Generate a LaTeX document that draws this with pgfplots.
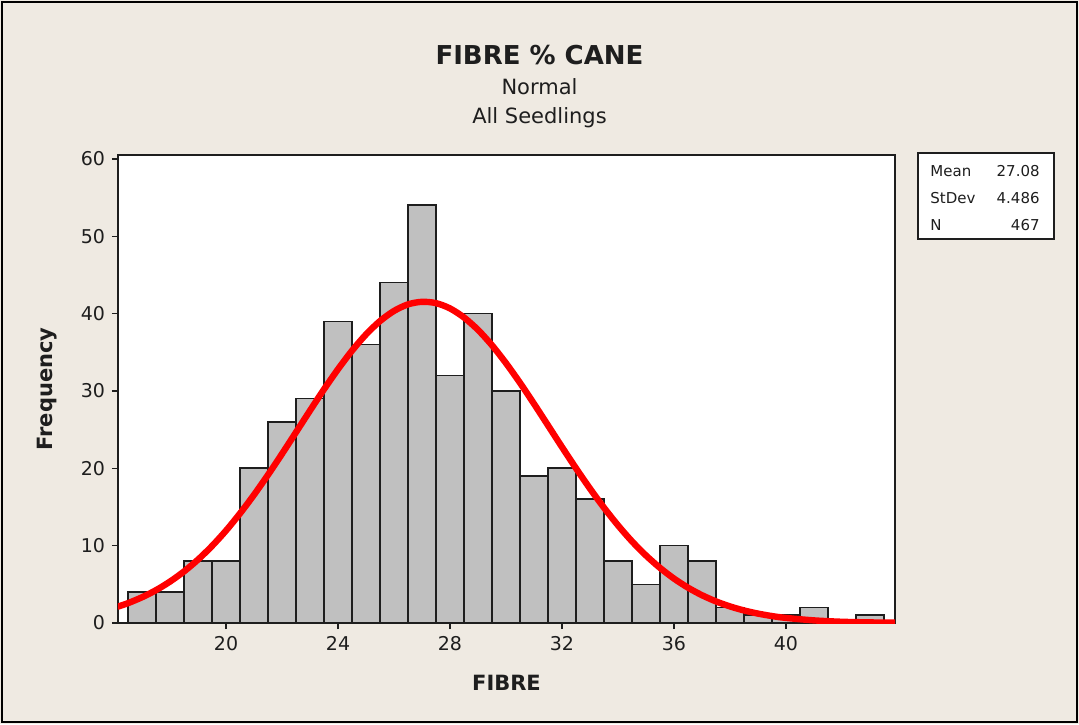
\documentclass[border=0pt]{standalone}
\usepackage{pgfplots}
\pgfplotsset{compat=1.18}
\usepackage{fontspec}
\setmainfont{DejaVu Sans}

\definecolor{bgbeige}{RGB}{239,234,226}
\definecolor{bargray}{RGB}{192,192,192}
\definecolor{curvered}{RGB}{255,0,0}
\definecolor{ink}{RGB}{30,30,30}

\begin{document}
\begin{tikzpicture}
% page: 539.5pt x 362pt, axis box lower left sits at (59pt,50.5pt) of the page
\fill[bgbeige] (-59pt,-50.5pt) rectangle (480.5pt,311.5pt);
\draw[black, line width=1pt] (-58pt,-49.5pt) rectangle (479.5pt,310.5pt);
\path[use as bounding box] (-59pt,-50.5pt) rectangle (480.5pt,311.5pt);

\begin{axis}[
    at={(0pt,0pt)}, anchor=south west,
    scale only axis,
    width=388.5pt, height=234pt,
    xmin=16.14, xmax=43.9,
    ymin=0, ymax=60.5,
    axis background/.style={fill=white},
    xtick={20,24,...,40},
    ytick={0,10,...,60},
    tick align=outside,
    xtick pos=bottom, ytick pos=left,
    major tick length=3pt,
    axis line style={ink, line width=0.8pt},
    tick style={ink, line width=0.7pt},
    ticklabel style={font=\fontsize{9.5}{11}\selectfont, text=ink},
    /pgf/number format/assume math mode=true,
    xlabel={FIBRE},
    ylabel={Frequency},
    label style={font=\fontsize{10.5}{12}\bfseries\selectfont, text=ink},
    xlabel style={at={(axis description cs:0.5,-0.128)}, anchor=center},
    ylabel style={at={(axis description cs:-0.0914,0.5)}, anchor=center},
]
% histogram, bins of width 1 centred on integers
\addplot[ybar interval, fill=bargray, draw=ink, line width=0.8pt] coordinates {
  (16.5,4) (17.5,4) (18.5,8) (19.5,8) (20.5,20) (21.5,26) (22.5,29)
  (23.5,39) (24.5,36) (25.5,44) (26.5,54) (27.5,32) (28.5,40) (29.5,30)
  (30.5,19) (31.5,20) (32.5,16) (33.5,8) (34.5,5) (35.5,10) (36.5,8)
  (37.5,2) (38.5,1) (39.5,1) (40.5,2) (41.5,0) (42.5,1) (43.5,0)
};
% fitted normal, mean 27.08, stdev 4.486, N 467
\addplot[curvered, line width=3.2pt, line cap=round, smooth, no markers] coordinates {
  (16.14,2.12) (16.5,2.57) (17,3.33) (17.5,4.25) (18,5.36) (18.5,6.67)
  (19,8.20) (19.5,9.96) (20,11.95) (20.5,14.17) (21,16.58) (21.5,19.16)
  (22,21.87) (22.5,24.66) (23,27.46) (23.5,30.21) (24,32.81) (24.5,35.20)
  (25,37.30) (25.5,39.03) (26,40.34) (26.5,41.19) (27,41.52) (27.5,41.35)
  (28,40.67) (28.5,39.50) (29,37.90) (29.5,35.91) (30,33.60) (30.5,31.06)
  (31,28.35) (31.5,25.56) (32,22.76) (32.5,20.02) (33,17.39) (33.5,14.92)
  (34,12.64) (34.5,10.57) (35,8.74) (35.5,7.14) (36,5.75) (36.5,4.58)
  (37,3.60) (37.5,2.80) (38,2.15) (38.5,1.63) (39,1.22) (39.5,0.90)
  (40,0.66) (41,0.34) (42,0.16) (43,0.08) (43.9,0.04)
};
\end{axis}

% titles
\node[font=\fontsize{13}{15}\bfseries\selectfont, text=ink] at (210.75pt,284pt) {FIBRE \% CANE};
\node[font=\fontsize{10.5}{12}\selectfont, text=ink] at (210.75pt,268pt) {Normal};
\node[font=\fontsize{10.5}{12}\selectfont, text=ink] at (210.75pt,252.5pt) {All Seedlings};

% statistics box
\draw[ink, line width=0.7pt, fill=white] (400pt,235pt) rectangle (468pt,192pt);
\begin{scope}[every node/.style={font=\fontsize{7.5}{9}\selectfont, text=ink, inner sep=0pt}]
  \node[anchor=west] at (406pt,226pt) {Mean};
  \node[anchor=west] at (406pt,212.5pt) {StDev};
  \node[anchor=west] at (406pt,199pt) {N};
  \node[anchor=east] at (461pt,226pt) {27.08};
  \node[anchor=east] at (461pt,212.5pt) {4.486};
  \node[anchor=east] at (461pt,199pt) {467};
\end{scope}
\end{tikzpicture}
\end{document}
